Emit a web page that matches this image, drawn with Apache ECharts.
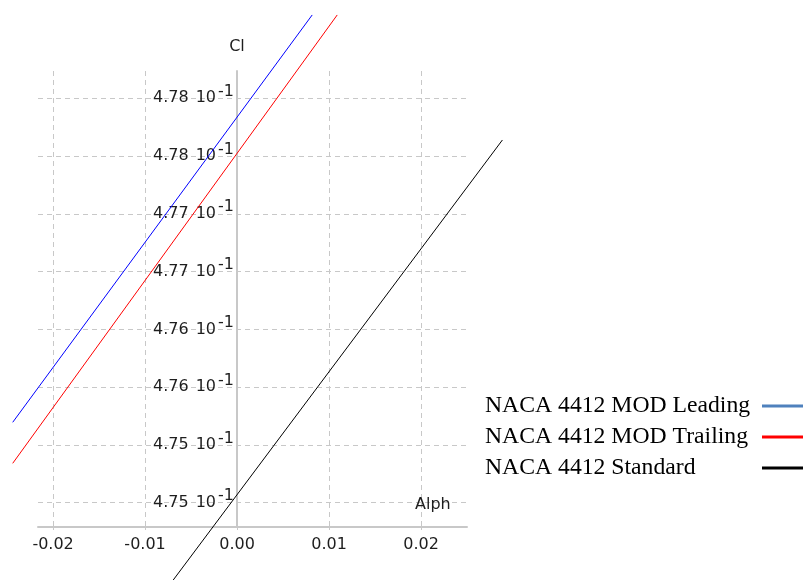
<!DOCTYPE html>
<html>
<head>
<meta charset="utf-8">
<script src="https://cdn.jsdelivr.net/npm/echarts@6/dist/echarts.min.js"></script>
<style>html,body{margin:0;padding:0;background:#fff;}#c{width:803px;height:580px;}</style>
</head>
<body>
<div id="c"></div>
<script>
const seriesNames = ['NACA 4412 MOD Leading', 'NACA 4412 MOD Trailing', 'NACA 4412 Standard'];
const alphaLeading = [-0.02439, 0.00817];
const clLeading = [0.475196, 0.478721];
const alphaTrailing = [-0.02439, 0.01089];
const clTrailing = [0.474841, 0.478721];
const alphaStandard = [-0.00694, 0.02885];
const clStandard = [0.473831, 0.477639];
const xTickValues = [-0.02, -0.01, 0, 0.01, 0.02];
const xTickLabels = ['-0.02', '-0.01', '0.00', '0.01', '0.02'];
const yTickValues = [0.4745, 0.475, 0.4755, 0.476, 0.4765, 0.477, 0.4775, 0.478];
const yTickLabels = ['4.75', '4.75', '4.76', '4.76', '4.77', '4.77', '4.78', '4.78'];
const lineColors = ['#0000ff', '#ff0000', '#000000'];
const legendColors = ['#4f81bd', '#ff0000', '#000000'];

function pairs(xs, ys) { return xs.map((x, i) => [x, ys[i]]); }
function findIdx(arr, v) { return arr.findIndex(t => Math.abs(t - v) < 1e-9); }

const seriesData = [pairs(alphaLeading, clLeading), pairs(alphaTrailing, clTrailing), pairs(alphaStandard, clStandard)];

const W = 803, H = 580;
const axisFont = 'DejaVu Sans';
const gridColor = '#c8c8c8';
const xMin = -0.02164, xMax = 0.025;
const yMin = 0.47429, yMax = 0.478236;
const gL = 38, gR = 336, gT = 71, gB = 53;
const kx = (W - gL - gR) / (xMax - xMin);
const ky = (H - gT - gB) / (yMax - yMin);
// y axis sits at alpha = 0: shift it from the grid's left edge
const yAxisShift = -Math.round((0 - xMin) * kx);
// full-canvas data grid with the same scale, so lines can run past the plot frame
const xMinFull = xMin - gL / kx, xMaxFull = xMax + gR / kx;
const yMinFull = yMin - gB / ky, yMaxFull = yMax + gT / ky;

const chart = echarts.init(document.getElementById('c'), null, {renderer: 'canvas'});
chart.setOption({
  animation: false,
  backgroundColor: '#ffffff',
  grid: [
    {left: gL, right: gR, top: gT, bottom: gB, containLabel: false, outerBoundsMode: 'none'},
    {left: 0, right: 0, top: 0, bottom: 0, containLabel: false, outerBoundsMode: 'none'}
  ],
  xAxis: [{
    type: 'value',
    gridIndex: 0,
    min: xMin,
    max: xMax,
    name: 'Alpha',
    nameLocation: 'end',
    nameGap: -52,
    nameTruncate: {maxWidth: 39, ellipsis: ''},
    nameTextStyle: {fontFamily: axisFont, fontSize: 16, color: '#1e1e1e', padding: [0, 0, 14, 0], align: 'left', verticalAlign: 'bottom'},
    axisLine: {show: true, onZero: false, lineStyle: {color: gridColor, width: 2}},
    axisTick: {show: true, length: 3, lineStyle: {color: gridColor}, customValues: xTickValues},
    axisLabel: {
      customValues: xTickValues,
      margin: 10,
      fontFamily: axisFont, fontSize: 16, color: '#1e1e1e',
      formatter: v => xTickLabels[findIdx(xTickValues, v)]
    },
    splitLine: {show: true, lineStyle: {color: gridColor, type: [5, 4], width: 1}}
  }, {
    type: 'value', gridIndex: 1, min: xMinFull, max: xMaxFull, show: false,
    axisLine: {onZero: false}, splitLine: {show: false}
  }],
  yAxis: [{
    type: 'value',
    gridIndex: 0,
    min: yMin,
    max: yMax,
    position: 'left',
    offset: yAxisShift,
    name: 'Cl',
    nameLocation: 'end',
    nameGap: 16,
    nameTextStyle: {fontFamily: axisFont, fontSize: 16, color: '#1e1e1e'},
    axisLine: {show: true, onZero: false, lineStyle: {color: gridColor, width: 2}},
    axisTick: {show: false, customValues: yTickValues},
    axisLabel: {
      customValues: yTickValues,
      margin: 3,
      color: '#1e1e1e',
      formatter: v => '{m|' + yTickLabels[findIdx(yTickValues, v)] + '}{t|10}{s|-1}',
      rich: {
        m: {fontFamily: axisFont, fontSize: 16, lineHeight: 18, color: '#1e1e1e', padding: [0, 7, 0, 0]},
        t: {fontFamily: axisFont, fontSize: 16, lineHeight: 18, color: '#1e1e1e'},
        s: {fontFamily: axisFont, fontSize: 16, lineHeight: 18, color: '#1e1e1e', padding: [0, 0, 13, 2]}
      }
    },
    splitLine: {show: true, lineStyle: {color: gridColor, type: [5, 4], width: 1}}
  }, {
    type: 'value', gridIndex: 1, min: yMinFull, max: yMaxFull, show: false,
    axisLine: {onZero: false}, splitLine: {show: false}
  }],
  legend: {
    orient: 'vertical',
    left: 485,
    top: 394,
    padding: 0,
    itemGap: 7,
    align: 'right',
    icon: 'rect',
    itemWidth: 50,
    itemHeight: 3,
    selectedMode: false,
    data: seriesNames.map((n, i) => ({name: n, itemStyle: {color: legendColors[i]}})),
    formatter: n => '{n|' + n + '}',
    textStyle: {
      rich: {
        n: {fontFamily: 'Liberation Serif', fontSize: 23.7, lineHeight: 24, color: '#000', width: 272, align: 'left'}
      }
    }
  },
  series: seriesNames.map((n, i) => ({
    name: n,
    type: 'line',
    xAxisIndex: 1,
    yAxisIndex: 1,
    data: seriesData[i],
    clip: false,
    symbol: 'none',
    showSymbol: false,
    itemStyle: {color: lineColors[i]},
    lineStyle: {color: lineColors[i], width: 1}
  }))
});
</script>
</body>
</html>
